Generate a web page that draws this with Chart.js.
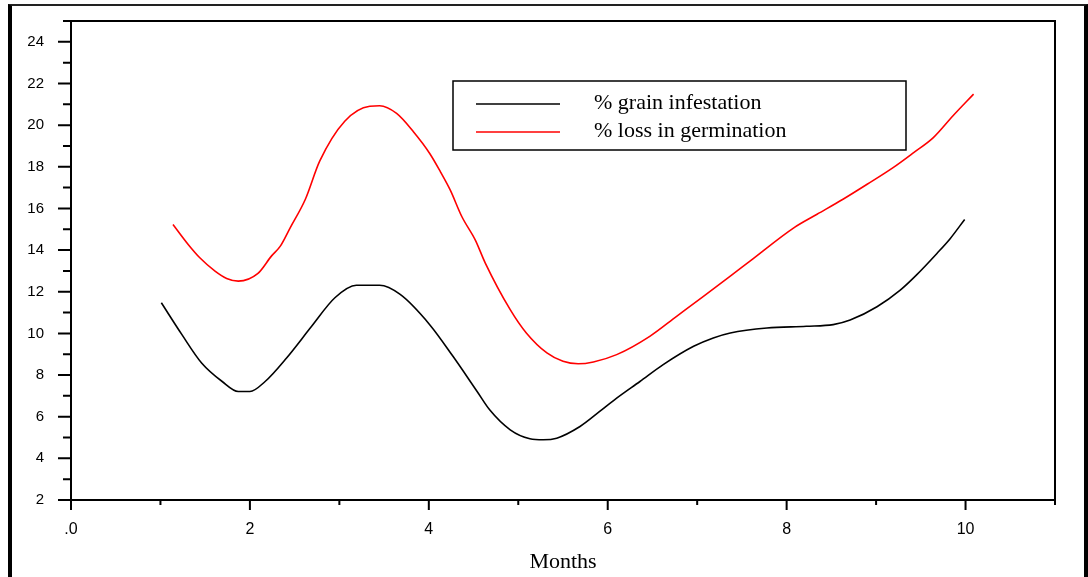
<!DOCTYPE html>
<html>
<head>
<meta charset="utf-8">
<script src="https://cdn.jsdelivr.net/npm/chart.js@4.4.1/dist/chart.umd.min.js"></script>
<style>
  body { margin: 0; background: #fff; }
  #wrap { position: relative; width: 1088px; height: 577px; overflow: hidden; }
  #frame { position: absolute; left: 8px; top: 4px; width: 1072px; height: 600px;
           border-left: 4px solid #000; border-top: 2px solid #222; border-right: 4px solid #000; }
  canvas { position: absolute; left: 0; top: 0; }
</style>
</head>
<body>
<div id="wrap">
  <div id="frame"></div>
  <canvas id="chart" width="1088" height="577"></canvas>
</div>
<script>
// % grain infestation
const monthsInfest = [1.01, 1.24, 1.46, 1.69, 1.87, 2.0, 2.17, 2.41, 2.69, 2.95, 3.19, 3.45, 3.68, 4.01, 4.27, 4.54, 4.68, 4.91, 5.13, 5.28, 5.43, 5.69, 5.91, 6.1, 6.36, 6.62, 6.96, 7.18, 7.37, 7.78, 8.22, 8.52, 8.71, 9.01, 9.27, 9.45, 9.68, 9.83, 9.99];
const infestation = [11.47, 9.94, 8.58, 7.69, 7.21, 7.21, 7.69, 8.82, 10.34, 11.71, 12.31, 12.31, 11.87, 10.42, 8.9, 7.21, 6.33, 5.37, 4.94, 4.89, 4.97, 5.53, 6.25, 6.89, 7.69, 8.5, 9.38, 9.78, 10.02, 10.26, 10.34, 10.42, 10.64, 11.28, 12.08, 12.8, 13.84, 14.56, 15.47];

// % loss in germination
const monthsGerm = [1.14, 1.31, 1.44, 1.61, 1.74, 1.87, 2.09, 2.24, 2.34, 2.45, 2.62, 2.78, 3.06, 3.34, 3.45, 3.64, 3.83, 4.01, 4.13, 4.24, 4.37, 4.52, 4.63, 4.91, 5.09, 5.32, 5.5, 5.67, 5.84, 6.1, 6.47, 6.77, 7.07, 7.37, 7.59, 8.08, 8.34, 8.63, 8.9, 9.19, 9.42, 9.64, 9.86, 10.09];
const germLoss = [15.23, 14.27, 13.63, 12.99, 12.64, 12.51, 12.88, 13.71, 14.19, 15.07, 16.44, 18.27, 20.19, 20.91, 20.93, 20.56, 19.67, 18.64, 17.76, 16.88, 15.6, 14.48, 13.39, 11.14, 10.02, 9.06, 8.66, 8.54, 8.63, 8.98, 9.86, 10.82, 11.78, 12.75, 13.47, 15.07, 15.72, 16.44, 17.16, 17.96, 18.68, 19.4, 20.45, 21.49];

const xTicks = [0, 2, 4, 6, 8, 10];
const xTickLabels = ['.0', '2', '4', '6', '8', '10'];

const toPoints = (xs, ys) => xs.map((x, i) => ({ x: x, y: ys[i] }));

// draws the box, tick marks and the legend
const framePlugin = {
    id: 'frame',
    afterDraw(chart) {
        const ctx = chart.ctx;
        const a = chart.chartArea;
        const xs = chart.scales.x;
        const ys = chart.scales.y;
        ctx.save();
        ctx.strokeStyle = '#000';
        ctx.lineWidth = 2;
        ctx.strokeRect(a.left, a.top, a.right - a.left, a.bottom - a.top);

        ctx.beginPath();
        for (let v = 0; v <= 11; v++) {
            const px = xs.getPixelForValue(v);
            ctx.moveTo(px, a.bottom);
            ctx.lineTo(px, a.bottom + (v % 2 === 0 ? 10 : 5));
        }
        for (let v = 2; v <= 25; v++) {
            const py = ys.getPixelForValue(v);
            ctx.moveTo(a.left, py);
            ctx.lineTo(a.left - (v % 2 === 0 ? 13 : 8), py);
        }
        ctx.stroke();

        // legend
        ctx.lineWidth = 1.5;
        ctx.strokeRect(453, 81, 453, 69);
        ctx.font = '22px "Liberation Serif", "Times New Roman", serif';
        ctx.textBaseline = 'middle';
        ctx.textAlign = 'left';
        chart.data.datasets.forEach((ds, i) => {
            const y = 104 + i * 28;
            ctx.strokeStyle = ds.borderColor;
            ctx.beginPath();
            ctx.moveTo(476, y);
            ctx.lineTo(560, y);
            ctx.stroke();
            ctx.fillStyle = '#000';
            ctx.fillText(ds.label, 594, y - 1);
        });
        ctx.restore();
    }
};

const ctx = document.getElementById('chart').getContext('2d');
const chart = new Chart(ctx, {
    type: 'scatter',
    data: {
        datasets: [{
            label: '% grain infestation',
            data: toPoints(monthsInfest, infestation),
            borderColor: '#000000',
            borderWidth: 1.6,
            showLine: true,
            pointRadius: 0,
            cubicInterpolationMode: 'monotone'
        }, {
            label: '% loss in germination',
            data: toPoints(monthsGerm, germLoss),
            borderColor: '#ff0000',
            borderWidth: 1.6,
            showLine: true,
            pointRadius: 0,
            cubicInterpolationMode: 'monotone'
        }]
    },
    options: {
        responsive: false,
        animation: false,
        layout: { padding: { left: 0, right: 33, top: 21, bottom: 0 } },
        plugins: {
            legend: { display: false },
            tooltip: { enabled: false }
        },
        scales: {
            x: {
                type: 'linear',
                min: 0,
                max: 11,
                afterFit: s => { s.height = 77; s.paddingLeft = 0; s.paddingRight = 0; },
                afterBuildTicks: s => { s.ticks = xTicks.map(v => ({ value: v })); },
                grid: { display: false, drawTicks: false },
                border: { display: false },
                ticks: {
                    padding: 20,
                    color: '#000',
                    font: { family: 'Arial, "Liberation Sans"', size: 16 },
                    callback: v => xTickLabels[xTicks.indexOf(v)]
                },
                title: {
                    display: true,
                    text: 'Months',
                    color: '#000',
                    font: { family: '"Liberation Serif", "Times New Roman", serif', size: 22 },
                    padding: { top: 0, bottom: 2 }
                }
            },
            y: {
                min: 2,
                max: 25,
                afterFit: s => { s.width = 71; s.paddingTop = 0; s.paddingBottom = 0; },
                grid: { display: false, drawTicks: false },
                border: { display: false },
                ticks: {
                    stepSize: 2,
                    includeBounds: false,
                    padding: 27,
                    color: '#000',
                    font: { family: 'Arial, "Liberation Sans"', size: 15 }
                }
            }
        }
    },
    plugins: [framePlugin]
});
</script>
</body>
</html>
